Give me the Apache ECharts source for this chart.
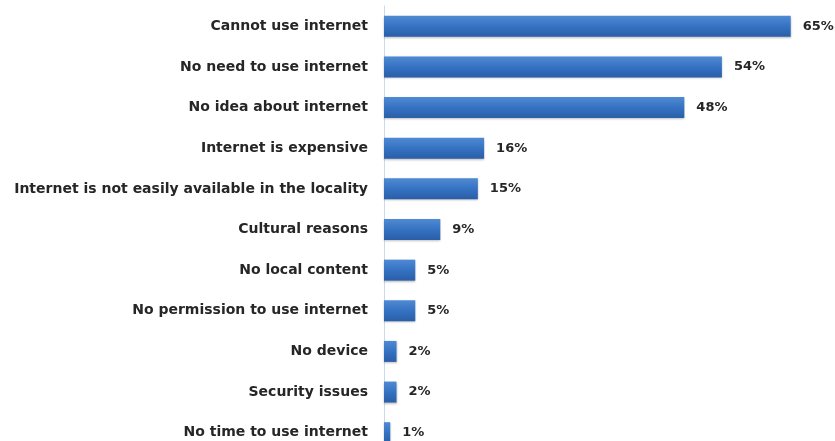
<!DOCTYPE html>
<html><head><meta charset="utf-8">
<script src="https://cdn.jsdelivr.net/npm/echarts@6/dist/echarts.min.js"></script>
<style>html,body{margin:0;padding:0;background:#fff}#c{width:835px;height:441px}</style>
</head><body><div id="c"></div>
<script>
const categories = ["Cannot use internet","No need to use internet","No idea about internet","Internet is expensive","Internet is not easily available in the locality","Cultural reasons","No local content","No permission to use internet","No device","Security issues","No time to use internet"];
const values = [65,54,48,16,15,9,5,5,2,2,1];
const chart = echarts.init(document.getElementById('c'));
chart.setOption({
  animation:false,
  backgroundColor:'#fff',
  grid:{left:384,right:13,top:6,height:447,containLabel:false,outerBoundsMode:'none'},
  xAxis:{type:'value',min:0,max:70,show:false},
  yAxis:{type:'category',inverse:true,data:categories,
    axisLine:{show:true,lineStyle:{color:'#c9d9ee',width:1}},
    axisTick:{show:false},
    axisLabel:{margin:16,color:'#262626',fontFamily:'DejaVu Sans',fontWeight:'bold',fontSize:14}},
  series:[{type:'bar',data:values,barWidth:21,
    itemStyle:{color:new echarts.graphic.LinearGradient(0,0,0,1,[{offset:0,color:'#4f8ad3'},{offset:0.5,color:'#3572c2'},{offset:1,color:'#2a5ea8'}]),
      shadowColor:'rgba(0,0,0,0.25)',shadowBlur:2,shadowOffsetY:1},
    label:{show:true,position:'right',distance:12,formatter:'{c}%',color:'#262626',fontFamily:'DejaVu Sans',fontWeight:'bold',fontSize:13}
  }]
});
</script></body></html>
